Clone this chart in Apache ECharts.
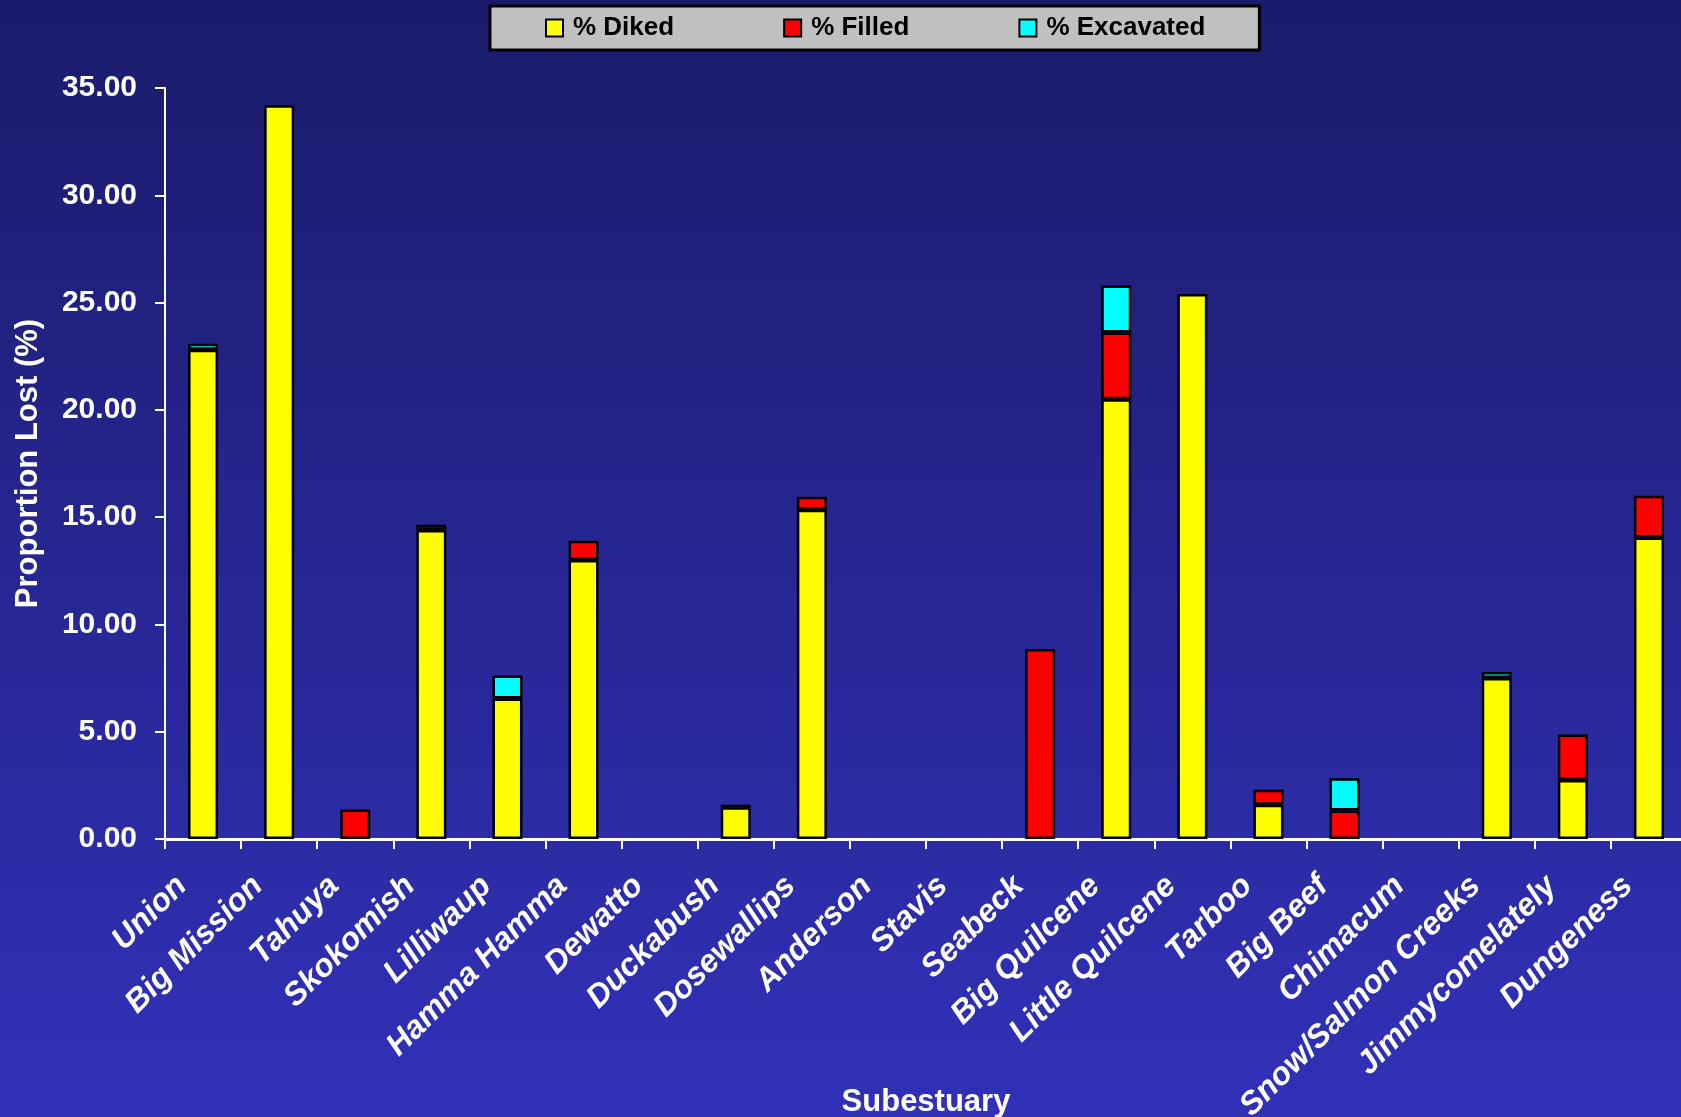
<!DOCTYPE html>
<html>
<head>
<meta charset="utf-8">
<script src="https://cdn.jsdelivr.net/npm/echarts@6/dist/echarts.min.js"></script>
<style>
html,body{margin:0;padding:0;}
#chart{width:1681px;height:1117px;}
</style>
</head>
<body>
<div id="chart"></div>
<script>
const categories = ['Union','Big Mission','Tahuya','Skokomish','Lilliwaup','Hamma Hamma','Dewatto','Duckabush','Dosewallips','Anderson','Stavis','Seabeck','Big Quilcene','Little Quilcene','Tarboo','Big Beef','Chimacum','Snow/Salmon Creeks','Jimmycomelately','Dungeness'];
const diked = [22.8, 34.2, 0, 14.4, 6.55, 13.0, 0, 1.48, 15.35, 0, 0, 0, 20.5, 25.4, 1.6, 0, 0, 7.5, 2.75, 14.05];
const filled = [0, 0, 1.37, 0.25, 0, 0.9, 0, 0.12, 0.6, 0, 0, 8.85, 3.1, 0, 0.7, 1.33, 0, 0, 2.12, 1.95];
const excavated = [0.28, 0, 0, 0, 1.07, 0, 0, 0, 0, 0, 0, 0, 2.2, 0, 0, 1.5, 0, 0.28, 0, 0];
const seriesNames = ['% Diked', '% Filled', '% Excavated'];
const yTicks = { min: 0, max: 35, interval: 5 };

const FONT = '"Liberation Sans", Arial, sans-serif';
const chart = echarts.init(document.getElementById('chart'));
const nz = arr => arr.map(v => (v === 0 ? null : v));
function barSeries(name, data, color) {
  return {
    name: name,
    type: 'bar',
    stack: 'total',
    barWidth: 30,
    data: nz(data),
    itemStyle: { color: color, borderColor: '#000', borderWidth: 2.5 },
    emphasis: { disabled: true }
  };
}
chart.setOption({
  backgroundColor: {
    type: 'linear', x: 0, y: 0, x2: 0, y2: 1,
    colorStops: [{ offset: 0, color: '#1b1b6b' }, { offset: 1, color: '#3131b9' }]
  },
  animation: false,
  legend: {
    left: 490, top: 6,
    padding: [9, 54, 9, 55],
    itemGap: 109,
    itemWidth: 17, itemHeight: 17,
    icon: 'rect',
    backgroundColor: '#c0c0c0',
    borderColor: '#000', borderWidth: 3,
    textStyle: { fontFamily: FONT, fontSize: 26, fontWeight: 'bold', color: '#000', padding: [0, 0, 0, 5] },
    data: seriesNames
  },
  grid: { left: 165, top: 88, width: 1522, height: 751, outerBoundsMode: 'none', containLabel: false },
  xAxis: {
    type: 'category',
    data: categories,
    name: 'Subestuary',
    nameLocation: 'middle',
    nameGap: 248,
    nameMoveOverlap: false,
    nameTextStyle: { fontFamily: FONT, fontSize: 31, fontWeight: 'bold', color: '#fff' },
    axisLine: { lineStyle: { color: '#fff', width: 3 } },
    axisTick: { show: true, length: 10, lineStyle: { color: '#fff', width: 2 } },
    axisLabel: {
      interval: 0, rotate: 45, margin: 21, hideOverlap: false,
      padding: [0, 30, 0, 0],
      fontFamily: FONT, fontSize: 32, fontWeight: 'bold', fontStyle: 'italic', color: '#fff'
    }
  },
  yAxis: {
    type: 'value',
    min: yTicks.min, max: yTicks.max, interval: yTicks.interval,
    name: 'Proportion Lost (%)',
    nameLocation: 'middle',
    nameGap: 121,
    nameTextStyle: { fontFamily: FONT, fontSize: 31, fontWeight: 'bold', color: '#fff' },
    axisLine: { show: true, lineStyle: { color: '#fff', width: 2 } },
    axisTick: { show: true, length: 10, lineStyle: { color: '#fff', width: 2 } },
    splitLine: { show: false },
    axisLabel: {
      margin: 28,
      formatter: v => v.toFixed(2),
      fontFamily: FONT, fontSize: 30, fontWeight: 'bold', color: '#fff'
    }
  },
  series: [
    barSeries(seriesNames[0], diked, '#ffff00'),
    barSeries(seriesNames[1], filled, '#ff0000'),
    barSeries(seriesNames[2], excavated, '#00ffff')
  ]
});
</script>
</body>
</html>
